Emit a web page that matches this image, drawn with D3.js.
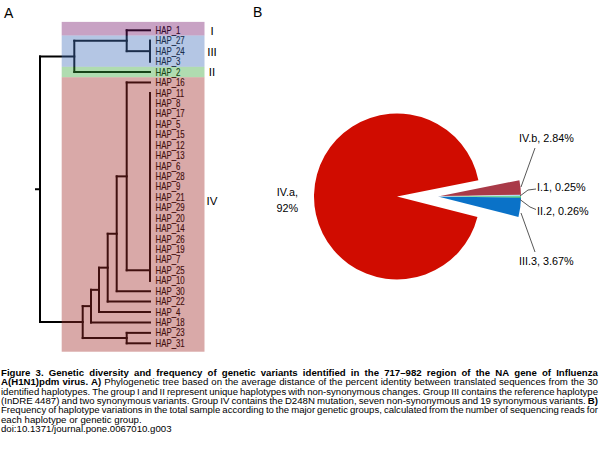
<!DOCTYPE html>
<html><head><meta charset="utf-8">
<script src="https://cdn.jsdelivr.net/npm/d3@7"></script>
<style>body{margin:0;background:#fff}svg{display:block}</style>
</head><body>
<svg id="c" width="600" height="449"></svg>
<script>
// ---------------- DATA ----------------
// Phylogenetic tree (Newick, branch lengths in tree units)
const polytomyIV = "((((((((((((((((((HAP_11:0,HAP_8:0):0,HAP_17:0):0,HAP_5:0):0,HAP_15:0):0,HAP_12:0):0,HAP_13:0):0,HAP_6:0):0,HAP_28:0):0,HAP_9:0):0,HAP_21:0):0,HAP_29:0):0,HAP_20:0):0,HAP_14:0):0,HAP_26:0):0,HAP_19:0):0,HAP_7:0):0,HAP_25:0):0,HAP_10:0)";
const cladeTop = "((HAP_1:23.3,(HAP_27:0,HAP_24:0,HAP_3:0):23.3):52.4,HAP_2:75.7):34.3";
const cladeBottom = "((((((HAP_16:23.3," + polytomyIV + ":23.3):10,HAP_30:33.3):9,HAP_22:42.3):8.7,HAP_4:51):8,HAP_18:59):8.3,(HAP_23:23.3,HAP_31:23.3):44):42.7";
const treeNewick = "(" + cladeTop + "," + cladeBottom + ");";

// Haplotype groups
const groupNames = ["I", "III", "II", "IV"];
const groupFirstLeaf = ["HAP_1", "HAP_27", "HAP_2", "HAP_16"];
const groupLastLeaf = ["HAP_1", "HAP_3", "HAP_2", "HAP_31"];

// Pie: frequency of genetic groups
const pieLabels = ["IV.b", "I.1", "II.2", "III.3", "IV.a"];
const pieValues = [2.84, 0.25, 0.26, 3.67, 92];
const pieValueText = ["2.84%", "0.25%", "0.26%", "3.67%", "92%"];

// Caption
const captionLines = [
  [["b", "Figure 3. Genetic diversity and frequency of genetic variants identified in the 717–982 region of the NA gene of Influenza"]],
  [["b", "A(H1N1)pdm virus. A)"], ["n", "Phylogenetic tree based on the average distance of the percent identity between translated sequences from the 30"]],
  [["n", "identified haplotypes. The group I and II represent unique haplotypes with non-synonymous changes. Group III contains the reference haplotype"]],
  [["n", "(InDRE 4487) and two synonymous variants. Group IV contains the D248N mutation, seven non-synonymous and 19 synonymous variants."], ["b", "B)"]],
  [["n", "Frequency of haplotype variations in the total sample according to the major genetic groups, calculated from the number of sequencing reads for"]],
  [["n", "each haplotype or genetic group."]],
  [["n", "doi:10.1371/journal.pone.0067010.g003"]]
];
const captionJustified = [true, true, true, true, true, false, false];

// ---------------- STYLE / LAYOUT ----------------
const groupColors = ["#75166b", "#4370bb", "#39a739", "#a02826"];
const groupLabelY = [30.5, 51.5, 72, 201];
const pieColors = ["#a93a48", "#6cccee", "#22cc3c", "#0a72c8", "#d00c00"];
const FONT = "Liberation Sans, Arial, sans-serif";

// ---------------- PARSER ----------------
function parseNewick(s) {
  let i = 0;
  function node() {
    const n = { children: [] };
    if (s[i] === "(") {
      i++;
      n.children.push(node());
      while (s[i] === ",") { i++; n.children.push(node()); }
      i++; // ')'
    }
    let name = "";
    while (i < s.length && !":,);".includes(s[i])) name += s[i++];
    n.name = name;
    n.length = 0;
    if (s[i] === ":") {
      i++;
      let num = "";
      while (i < s.length && !",);".includes(s[i])) num += s[i++];
      n.length = +num;
    }
    return n;
  }
  return node();
}

const svg = d3.select("#c");
const root = d3.hierarchy(parseNewick(treeNewick), d => d.children.length ? d.children : null);
root.eachBefore(d => { d.depthLen = d.parent ? d.parent.depthLen + d.data.length : 0; });
const leaves = root.leaves();
const leafNames = leaves.map(d => d.data.name);

const x = d3.scaleLinear().domain([0, 110]).range([40, 150]);
const y = d3.scalePoint().domain(leafNames).range([30.3, 343.3]);
const step = y.step();

root.eachAfter(d => {
  if (!d.children) d.yy = y(d.data.name);
  else d.yy = (d.children[0].yy + d.children[d.children.length - 1].yy) / 2;
  d.xx = x(d.depthLen);
});

// ---------------- TREE ----------------
const gTree = svg.append("g");
const segs = [];
root.each(d => {
  if (d.children) segs.push([d.xx, d.children[0].yy, d.xx, d.children[d.children.length - 1].yy]);
  if (d.parent) segs.push([d.parent.xx, d.yy, d.xx, d.yy]);
});
segs.push([root.xx - 4, root.yy, root.xx, root.yy]);
gTree.selectAll("line").data(segs).join("line")
  .attr("x1", d => d[0]).attr("y1", d => d[1]).attr("x2", d => d[2]).attr("y2", d => d[3])
  .attr("stroke", "#000").attr("stroke-width", 2).attr("stroke-linecap", "square");

gTree.selectAll("text.leaf").data(leaves).join("text")
  .attr("class", "leaf")
  .attr("transform", d => `translate(155.5,${d.yy + 3.6}) scale(0.77,1)`)
  .attr("font-family", FONT)
  .attr("font-size", 10.2)
  .attr("fill", "#000")
  .attr("stroke", "#000").attr("stroke-width", 0.15)
  .text(d => d.data.name);

// group bands (semi-transparent, on top)
const bands = groupNames.map((g, i) => {
  let y0 = y(groupFirstLeaf[i]) - step / 2, y1 = y(groupLastLeaf[i]) + step / 2;
  if (i === 0) y0 -= 3.2;
  if (i === groupNames.length - 1) y1 += 3.2;
  return { name: g, y0, y1, color: groupColors[i], ly: groupLabelY[i] };
});
svg.append("g").selectAll("rect").data(bands).join("rect")
  .attr("x", 61.7).attr("width", 204.5 - 61.7)
  .attr("y", d => d.y0).attr("height", d => d.y1 - d.y0)
  .attr("fill", d => d.color).attr("fill-opacity", 0.4);

svg.append("g").selectAll("text").data(bands).join("text")
  .attr("x", 212).attr("y", d => d.ly + 4)
  .attr("text-anchor", "middle")
  .attr("font-family", FONT)
  .attr("font-size", 11.5)
  .attr("fill", "#000")
  .text(d => d.name);

// panel labels
svg.append("text").attr("x", 4).attr("y", 18).attr("font-family", FONT).attr("font-size", 14).text("A");
svg.append("text").attr("x", 253).attr("y", 17).attr("font-family", FONT).attr("font-size", 14).text("B");

// ---------------- PIE ----------------
const cx = 397, cy = 196.5, R = 83;
const a0 = 78.7 * Math.PI / 180;
const pie = d3.pie().sort(null).startAngle(a0).endAngle(a0 + 2 * Math.PI);
const arcs = pie(pieValues);
const arcGen = d3.arc().innerRadius(0).outerRadius(R);
const explode = 41;
const gPie = svg.append("g").attr("transform", `translate(${cx},${cy})`);
gPie.selectAll("path").data(arcs).join("path")
  .attr("d", arcGen)
  .attr("transform", (d, i) => i < 4 ? `translate(${explode},0)` : null)
  .attr("fill", (d, i) => pieColors[i]);
// thin white separator below the IV.b slice
const sep = arcs[0];
gPie.append("line")
  .attr("transform", `translate(${explode},0)`)
  .attr("x1", 0).attr("y1", 0)
  .attr("x2", R * Math.sin(sep.endAngle)).attr("y2", -R * Math.cos(sep.endAngle))
  .attr("stroke", "#fff").attr("stroke-width", 0.5);

// leader lines & labels (layout)
const leaders = [
  [[521, 187], [535, 148]],
  [[520, 196], [528, 190], [536, 189]],
  [[520, 199.5], [530, 207], [536, 209.5]],
  [[521, 213], [535, 252]]
];
const labelPos = [[519, 142], [537, 190.5], [537, 214.5], [519, 264.5]];
svg.append("g").selectAll("path").data(leaders).join("path")
  .attr("d", d => d3.line()(d)).attr("fill", "none").attr("stroke", "#444").attr("stroke-width", 0.9);
svg.append("g").selectAll("text").data(labelPos).join("text")
  .attr("x", d => d[0]).attr("y", d => d[1])
  .attr("font-family", FONT).attr("font-size", 10.8).attr("fill", "#000")
  .text((d, i) => `${pieLabels[i]}, ${pieValueText[i]}`);
const mainLab = svg.append("text").attr("font-family", FONT).attr("font-size", 10.8).attr("fill", "#000").attr("text-anchor", "end");
mainLab.append("tspan").attr("x", 298).attr("y", 195.5).text(pieLabels[4] + ",");
mainLab.append("tspan").attr("x", 298).attr("y", 212).text(pieValueText[4]);

// ---------------- CAPTION ----------------
const capX0 = 1, capX1 = 598, capY0 = 376, capDY = 9.35, capFont = 8.25, capSX = 1.17;
captionLines.forEach((parts, li) => {
  const g = svg.append("g");
  const words = [];
  parts.forEach(([w, t]) => t.split(" ").filter(s => s.length).forEach(s => words.push({ bold: w === "b", t: s })));
  const texts = words.map(wd => g.append("text")
    .attr("font-family", FONT)
    .attr("font-size", capFont)
    .attr("font-weight", wd.bold ? "bold" : "normal")
    .attr("fill", "#000")
    .attr("y", capY0 + li * capDY)
    .text(wd.t));
  const widths = texts.map(t => t.node().getComputedTextLength());
  const sum = d3.sum(widths);
  let sx = capSX;
  const minGap = 1.7;
  let target = (capX1 - capX0) / sx;
  let gap = captionJustified[li] ? (target - sum) / (words.length - 1) : 2.3;
  if (gap < minGap) { sx = (capX1 - capX0) / (sum + minGap * (words.length - 1)); gap = minGap; }
  let xx = 0;
  texts.forEach((t, k) => { t.attr("x", xx); xx += widths[k] + gap; });
  g.attr("transform", `translate(${capX0},0) scale(${sx},1)`);
});
</script>
</body></html>
